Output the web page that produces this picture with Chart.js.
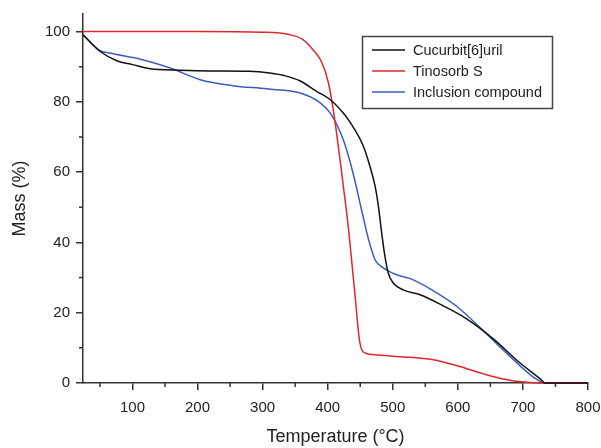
<!DOCTYPE html>
<html>
<head>
<meta charset="utf-8">
<title>TGA curves</title>
<script src="https://cdn.jsdelivr.net/npm/chart.js@4.4.1/dist/chart.umd.min.js"></script>
<style>
  html, body { margin: 0; padding: 0; background: #fff; }
  #wrap { width: 601px; height: 448px; }
</style>
</head>
<body>
<div id="wrap"><canvas id="tgaChart" width="601" height="448"></canvas></div>
<script>
// values (temperature in °C, mass in %)
const seriesNames = ['Cucurbit[6]uril', 'Tinosorb S', 'Inclusion compound'];
const seriesColors = ['#111111', '#e3262d', '#3f5bbd'];

const tempCucurbit = [24, 50, 76, 100, 127, 173, 220, 280, 311, 335, 357, 383, 404, 424, 435, 455, 465, 473, 478, 483, 488, 493, 501, 516, 542, 577, 614, 655, 691, 727, 734, 800];
const massCucurbit = [99.1, 94.4, 91.7, 90.6, 89.4, 89.0, 88.8, 88.7, 88.2, 87.4, 86.0, 83.0, 80.6, 76.8, 74.0, 67.3, 61.6, 55.9, 50.2, 42.6, 36.0, 31.3, 28.4, 26.5, 25.1, 22.0, 18.2, 12.5, 6.4, 1.1, 0, 0];

const tempTinosorb = [24, 100, 200, 300, 342, 362, 377, 391, 401, 407, 413, 419, 424, 431, 442, 449, 455, 475, 511, 562, 599, 639, 676, 716, 800];
const massTinosorb = [100, 100, 100, 99.8, 99.1, 97.7, 94.9, 91.2, 85.5, 79.5, 72.0, 63.5, 56.0, 45.5, 25.0, 12.0, 8.8, 8.0, 7.5, 6.6, 4.9, 2.6, 0.9, 0.1, 0];

const tempInclusion = [24, 50, 65, 111, 157, 204, 254, 306, 358, 388, 404, 424, 439, 452, 463, 473, 486, 506, 527, 562, 599, 639, 676, 716, 734, 800];
const massInclusion = [99.1, 94.6, 93.9, 92.2, 89.7, 86.3, 84.6, 83.7, 82.5, 79.8, 76.8, 69.2, 59.7, 49.3, 40.7, 35.0, 32.7, 30.8, 29.7, 26.3, 21.7, 14.9, 8.3, 1.7, 0, 0];

const xMinorTicks = [50, 150, 250, 350, 450, 550, 650, 750];
const yMinorTicks = [10, 30, 50, 70, 90];

const axisColor = '#333333';
const fontFamily = 'Arial, "Liberation Sans", Helvetica, sans-serif';

function toPoints(xs, ys) {
  return xs.map((t, i) => ({ x: t, y: ys[i] }));
}

// small ticks between the labelled ones
const minorTicks = {
  id: 'minorTicks',
  afterDraw(chart) {
    const { ctx, scales: { x, y } } = chart;
    ctx.save();
    ctx.strokeStyle = axisColor;
    ctx.lineWidth = 1.5;
    ctx.beginPath();
    xMinorTicks.forEach(v => {
      const px = x.getPixelForValue(v);
      ctx.moveTo(px, y.bottom);
      ctx.lineTo(px, y.bottom + 4);
    });
    yMinorTicks.forEach(v => {
      const py = y.getPixelForValue(v);
      ctx.moveTo(x.left, py);
      ctx.lineTo(x.left - 4, py);
    });
    ctx.stroke();
    ctx.restore();
  }
};

// legend with a frame, top right inside the plot
const boxLegend = {
  id: 'boxLegend',
  afterDraw(chart) {
    const ctx = chart.ctx;
    const left = 362, top = 36, w = 190, h = 72;
    ctx.save();
    ctx.strokeStyle = '#444';
    ctx.lineWidth = 1.5;
    ctx.strokeRect(left + 0.5, top + 0.5, w, h);
    ctx.font = '14.5px ' + fontFamily;
    ctx.textBaseline = 'middle';
    ctx.fillStyle = '#222';
    chart.data.datasets.forEach((ds, i) => {
      const yy = 50 + i * 21;
      ctx.strokeStyle = ds.borderColor;
      ctx.lineWidth = 1.5;
      ctx.beginPath();
      ctx.moveTo(372, yy);
      ctx.lineTo(405, yy);
      ctx.stroke();
      ctx.fillText(ds.label, 413, yy + 1);
    });
    ctx.restore();
  }
};

const ctx = document.getElementById('tgaChart').getContext('2d');
new Chart(ctx, {
  type: 'scatter',
  data: {
    datasets: [
      { label: seriesNames[0], data: toPoints(tempCucurbit, massCucurbit), borderColor: seriesColors[0] },
      { label: seriesNames[1], data: toPoints(tempTinosorb, massTinosorb), borderColor: seriesColors[1] },
      { label: seriesNames[2], data: toPoints(tempInclusion, massInclusion), borderColor: seriesColors[2] }
    ].map(ds => Object.assign(ds, {
      showLine: true,
      borderWidth: 1.5,
      pointRadius: 0,
      cubicInterpolationMode: 'monotone',
      clip: 4
    }))
  },
  options: {
    responsive: false,
    devicePixelRatio: 1,
    animation: false,
    layout: { padding: { top: 14, right: 13, left: 0, bottom: 0 } },
    plugins: {
      legend: { display: false },
      tooltip: { enabled: false }
    },
    scales: {
      x: {
        type: 'linear',
        min: 24,
        max: 800,
        afterFit(scale) {
          scale.height = 65;
          scale.paddingLeft = 0;
          scale.paddingRight = 0;
        },
        border: { display: true, color: axisColor, width: 1.5 },
        grid: { drawOnChartArea: false, drawTicks: true, tickLength: 7, color: axisColor, lineWidth: 1.5 },
        ticks: { stepSize: 100, includeBounds: false, padding: 9, color: '#222', font: { family: fontFamily, size: 15 } },
        title: {
          display: true,
          text: 'Temperature (°C)',
          color: '#222',
          font: { family: fontFamily, size: 18 },
          padding: { top: 0, bottom: 0 }
        }
      },
      y: {
        type: 'linear',
        min: 0,
        max: 105,
        afterFit(scale) {
          scale.width = 83;
          scale.paddingTop = 0;
          scale.paddingBottom = 0;
        },
        border: { display: true, color: axisColor, width: 1.5 },
        grid: { drawOnChartArea: false, drawTicks: true, tickLength: 7, color: axisColor, lineWidth: 1.5 },
        ticks: { stepSize: 20, includeBounds: false, padding: 6, color: '#222', font: { family: fontFamily, size: 15 } },
        title: {
          display: true,
          text: 'Mass (%)',
          color: '#222',
          font: { family: fontFamily, size: 18 },
          padding: { top: 9, bottom: 0 }
        }
      }
    }
  },
  plugins: [minorTicks, boxLegend]
});
</script>
</body>
</html>
